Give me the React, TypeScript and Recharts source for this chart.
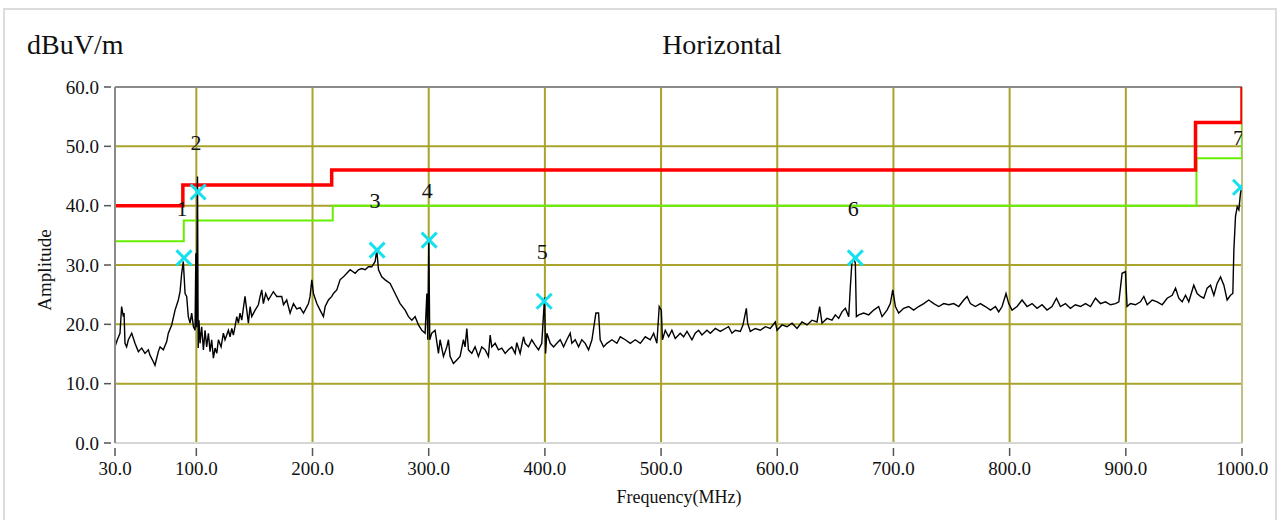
import React from 'react';
import { ComposedChart, Line, Scatter, XAxis, YAxis, CartesianGrid, ReferenceLine } from 'recharts';

const SERIF = "'Liberation Serif', 'DejaVu Serif', serif";

const xTicks = [30, 100, 200, 300, 400, 500, 600, 700, 800, 900, 1000];
const yTicks = [0, 10, 20, 30, 40, 50, 60];

const limitFreq = [30, 88.4, 216.5, 960, 1000];
const qpLimit = [40, 43.5, 46, 54, 60];
const marginFreq = [30, 89.2, 217.4, 960.8, 1000];
const marginLimit = [34, 37.5, 40, 48, 54];

const markerFreq = [89.4, 101.5, 255.6, 300.4, 399.4, 667.2, 998.7];
const markerAmp = [31.2, 42.3, 32.5, 34.2, 23.9, 31.2, 43.1];
const markerLabel = ['1', '2', '3', '4', '5', '6', '7'];

// measured trace: [frequency MHz, amplitude dBuV/m]
const trace: [number, number][] = [
  [30.0, 16.2], [32.0, 17.4], [34.3, 18.5], [35.7, 23.0], [37.2, 21.3], [37.8, 21.9], [38.6, 16.8], [40.0, 16.2],
  [41.5, 17.4], [44.4, 18.5], [47.2, 16.8], [50.1, 15.4], [53.0, 16.0], [55.8, 15.1], [58.7, 15.7], [60.1, 14.8],
  [63.0, 13.7], [64.4, 13.1], [67.3, 15.4], [68.8, 16.2], [71.6, 15.7], [74.5, 17.1], [75.9, 18.5], [78.8, 19.9],
  [81.7, 22.4], [84.5, 24.1], [86.0, 25.5], [87.4, 28.6], [88.8, 30.6], [90.3, 25.2], [91.7, 24.7], [93.1, 21.3],
  [94.6, 20.2], [96.0, 21.9], [97.5, 19.6], [98.9, 19.0], [99.6, 32.0], [100.2, 19.5], [101.0, 44.9], [101.6, 16.0],
  [102.3, 20.7], [103.2, 16.8], [104.6, 19.6], [106.1, 15.7], [107.5, 19.0], [108.9, 16.2], [110.4, 18.5], [111.8, 15.4],
  [113.2, 17.4], [114.7, 14.3], [116.1, 16.0], [117.6, 15.1], [119.0, 17.4], [121.3, 16.2], [123.3, 18.5], [124.7, 17.4],
  [127.6, 19.0], [129.0, 17.9], [130.5, 19.3], [131.9, 18.2], [133.3, 19.6], [134.8, 21.3], [136.2, 20.2], [137.6, 21.9],
  [139.1, 20.7], [141.9, 24.7], [143.4, 22.4], [144.8, 20.2], [146.3, 23.0], [147.7, 21.3], [150.6, 22.4], [153.4, 23.3],
  [154.9, 24.7], [156.3, 25.8], [157.7, 23.5], [159.7, 25.2], [162.0, 24.1], [166.3, 25.5], [169.2, 24.7], [173.5, 24.7],
  [175.0, 23.3], [177.8, 24.1], [180.7, 21.9], [183.6, 23.5], [186.4, 22.6], [189.3, 22.8], [192.2, 21.9], [193.6, 22.4],
  [196.5, 23.5], [197.9, 24.7], [199.4, 27.5], [200.8, 25.2], [203.7, 23.5], [206.5, 22.4], [209.4, 21.3], [210.9, 23.0],
  [213.7, 24.1], [216.6, 24.7], [218.0, 25.2], [220.9, 25.8], [223.7, 27.5], [226.6, 28.0], [229.5, 28.6], [232.4, 29.2],
  [236.7, 28.6], [239.5, 29.2], [242.4, 29.4], [245.3, 29.2], [248.1, 29.7], [251.0, 29.7], [253.9, 30.6], [255.3, 32.5],
  [256.8, 29.2], [259.6, 28.0], [262.5, 27.5], [266.8, 26.9], [271.1, 25.2], [275.4, 23.5], [279.7, 22.4], [282.6, 21.3],
  [285.5, 20.7], [288.3, 21.3], [291.2, 19.9], [294.1, 19.0], [296.9, 18.5], [298.4, 25.2], [299.2, 17.4], [300.1, 34.5],
  [300.9, 17.4], [302.6, 18.5], [305.5, 19.0], [308.4, 15.1], [309.8, 17.4], [312.7, 14.6], [315.6, 16.2], [317.0, 17.4],
  [318.4, 14.6], [321.3, 13.4], [324.2, 14.0], [327.0, 14.6], [329.9, 17.4], [331.3, 16.2], [332.8, 19.3], [334.2, 15.7],
  [337.1, 15.1], [339.9, 16.2], [342.8, 14.6], [345.7, 16.2], [348.6, 15.7], [351.4, 14.6], [352.9, 18.2], [354.3, 16.2],
  [357.2, 16.8], [360.0, 15.7], [362.9, 16.0], [365.8, 15.1], [368.6, 15.7], [371.5, 16.2], [374.4, 15.1], [375.8, 16.9],
  [378.7, 15.1], [381.6, 17.9], [383.0, 16.8], [385.9, 16.2], [388.7, 17.4], [391.6, 16.5], [394.5, 15.7], [397.3, 16.8],
  [399.7, 24.5], [400.6, 15.1], [401.7, 18.5], [404.6, 16.8], [407.5, 16.2], [410.3, 16.8], [413.2, 17.4], [416.1, 16.2],
  [418.9, 17.4], [421.8, 18.5], [423.2, 16.8], [426.1, 17.4], [429.0, 16.2], [431.8, 17.4], [434.7, 16.8], [437.6, 15.7],
  [440.5, 17.4], [443.9, 21.9], [446.2, 21.9], [447.6, 17.4], [450.5, 16.2], [453.4, 16.8], [457.7, 17.4], [462.0, 16.8],
  [464.9, 17.9], [469.2, 17.4], [473.5, 16.8], [477.8, 17.4], [482.1, 16.8], [486.4, 17.9], [490.7, 17.4], [493.6, 18.5],
  [496.4, 16.8], [498.4, 23.0], [500.2, 22.4], [501.2, 17.4], [503.6, 19.0], [506.5, 17.9], [509.3, 19.0], [512.2, 17.6],
  [516.5, 18.5], [519.4, 17.9], [522.3, 18.8], [526.6, 17.4], [529.4, 18.5], [532.3, 19.0], [535.2, 18.2], [539.5, 19.0],
  [542.4, 18.5], [546.7, 19.3], [551.0, 18.8], [555.3, 19.3], [558.1, 19.6], [561.0, 18.5], [563.9, 19.0], [568.2, 18.8],
  [570.5, 19.9], [573.4, 22.7], [574.5, 20.2], [576.8, 18.8], [581.1, 19.3], [585.4, 19.0], [589.7, 19.6], [594.0, 19.3],
  [598.3, 20.4], [599.8, 19.0], [604.1, 19.9], [608.4, 19.6], [612.7, 20.2], [617.0, 19.3], [621.3, 20.4], [625.6, 19.9],
  [629.9, 20.7], [634.2, 20.4], [636.5, 23.0], [638.5, 20.2], [642.8, 21.0], [647.1, 20.7], [650.0, 21.6], [652.9, 21.0],
  [655.7, 22.1], [658.6, 22.7], [661.5, 21.3], [662.9, 26.3], [664.3, 30.6], [665.8, 31.1], [667.2, 30.3], [668.1, 21.3],
  [670.1, 21.6], [674.4, 21.9], [678.7, 21.6], [683.0, 22.4], [687.3, 23.0], [690.2, 21.3], [694.5, 22.4], [697.3, 23.5],
  [699.4, 25.8], [701.7, 23.0], [704.5, 21.9], [708.8, 22.7], [713.1, 23.0], [717.4, 22.4], [721.7, 23.0], [726.1, 23.5],
  [730.4, 24.1], [734.7, 23.5], [739.0, 23.0], [743.3, 23.5], [747.6, 23.3], [751.9, 23.5], [756.2, 23.0], [760.5, 24.1],
  [763.4, 24.7], [766.2, 23.5], [770.5, 23.0], [774.8, 23.5], [779.1, 23.0], [783.5, 22.4], [787.8, 23.0], [790.6, 22.1],
  [793.5, 23.0], [796.9, 25.2], [799.2, 23.5], [802.1, 22.4], [806.4, 23.0], [810.7, 24.1], [815.0, 23.0], [819.3, 23.5],
  [823.6, 22.7], [827.9, 23.3], [832.2, 22.4], [836.5, 23.0], [840.3, 24.4], [843.7, 23.0], [848.0, 23.5], [852.3, 22.7],
  [856.6, 23.3], [861.0, 23.0], [865.3, 23.5], [869.6, 23.0], [873.9, 24.4], [878.2, 23.5], [882.5, 23.8], [886.8, 23.3],
  [891.1, 23.5], [894.0, 23.8], [896.8, 28.6], [899.7, 28.9], [901.1, 23.0], [904.0, 23.5], [908.3, 23.3], [912.6, 23.8],
  [915.5, 24.7], [918.4, 23.3], [922.7, 24.1], [927.0, 23.8], [931.3, 23.3], [935.6, 24.4], [939.9, 24.9], [942.8, 26.1],
  [945.6, 24.4], [948.5, 23.8], [951.4, 24.9], [954.2, 23.8], [958.5, 26.6], [961.4, 25.2], [964.3, 24.7], [967.1, 24.4],
  [970.0, 26.1], [972.9, 26.6], [975.8, 24.9], [978.6, 26.9], [981.5, 28.0], [984.4, 26.6], [987.2, 24.1], [990.1, 24.9],
  [992.1, 25.2], [993.0, 32.5], [994.4, 38.2], [995.9, 39.8], [997.3, 39.3], [998.7, 42.1], [1000.0, 43.2],
];

const traceData = trace.map(([f, a]) => ({ f, a }));
const qpData = limitFreq.map((f, i) => ({ f, a: qpLimit[i] }));
const marginData = marginFreq.map((f, i) => ({ f, a: marginLimit[i] }));
const markerData = markerFreq.map((f, i) => ({ f, a: markerAmp[i], label: markerLabel[i] }));

const GRID = '#a9a32c';

const XTick = (props: any) => {
  const { x, y, payload } = props;
  return (
    <g>
      <line x1={x} x2={x} y1={y + 5} y2={y + 13} stroke="#555" strokeWidth={1.5} />
      <text x={x} y={y + 32} textAnchor="middle" fontFamily={SERIF} fontSize={19} fill="#111">
        {Number(payload.value).toFixed(1)}
      </text>
    </g>
  );
};

const YTick = (props: any) => {
  const { x, y, payload } = props;
  return (
    <g>
      <line x1={x - 11} x2={x - 4} y1={y} y2={y} stroke="#555" strokeWidth={1.5} />
      <text x={x - 16} y={y + 6.5} textAnchor="end" fontFamily={SERIF} fontSize={19} fill="#111">
        {Number(payload.value).toFixed(1)}
      </text>
    </g>
  );
};

const MarkerShape = (props: any) => {
  const { cx, cy, payload } = props;
  const s = 7.5;
  return (
    <g>
      <line x1={cx - s} y1={cy - s} x2={cx + s} y2={cy + s} stroke="#14e0ee" strokeWidth={3} />
      <line x1={cx - s} y1={cy + s} x2={cx + s} y2={cy - s} stroke="#14e0ee" strokeWidth={3} />
      <text x={cx - 2} y={cy - 42} textAnchor="middle" fontFamily={SERIF} fontSize={22} fill="#111">
        {payload.label}
      </text>
    </g>
  );
};

export default function App() {
  return (
    <div style={{ position: 'relative', width: 1282, height: 520, background: '#fff', overflow: 'hidden' }}>
      <style>{`body{margin:0;}`}</style>
      <ComposedChart
        width={1282}
        height={520}
        margin={{ top: 87, right: 40, bottom: 0, left: 0 }}
      >
        <CartesianGrid stroke={GRID} strokeWidth={2} />
        <XAxis
          type="number"
          dataKey="f"
          domain={[30, 1000]}
          ticks={xTicks}
          allowDataOverflow
          height={77}
          tickSize={0}
          tickMargin={0}
          tickLine={false}
          axisLine={{ stroke: '#d6d6d6', strokeWidth: 2 }}
          tick={<XTick />}
          interval={0}
        />
        <YAxis
          type="number"
          domain={[0, 60]}
          ticks={yTicks}
          allowDataOverflow
          width={115}
          tickSize={0}
          tickMargin={0}
          tickLine={false}
          axisLine={{ stroke: '#8a8a8a', strokeWidth: 2 }}
          tick={<YTick />}
          interval={0}
        />
        <ReferenceLine y={60} stroke="#8a8a8a" strokeWidth={2} />
        <ReferenceLine x={1000} stroke="#dcdcdc" strokeWidth={1} />
        <Line data={marginData} dataKey="a" type="stepAfter" stroke="#66f000" strokeWidth={2} dot={false} isAnimationActive={false} />
        <Line data={qpData} dataKey="a" type="stepAfter" stroke="#ff0000" strokeWidth={3.5} dot={false} isAnimationActive={false} />
        <Line data={traceData} dataKey="a" type="linear" stroke="#000" strokeWidth={1.4} dot={false} isAnimationActive={false} />
        <Scatter data={markerData} dataKey="a" shape={<MarkerShape />} isAnimationActive={false} />
      </ComposedChart>
      <div style={{ position: 'absolute', left: 3, top: 8, width: 1274, height: 530, border: '2px solid #dcdcdc', boxSizing: 'border-box', pointerEvents: 'none' }} />
      <div style={{ position: 'absolute', left: 27, top: 28, fontFamily: SERIF, fontSize: 28, lineHeight: '34px', color: '#111' }}>dBuV/m</div>
      <div style={{ position: 'absolute', left: 622, width: 200, top: 28, textAlign: 'center', fontFamily: SERIF, fontSize: 28, lineHeight: '34px', color: '#111' }}>Horizontal</div>
      <div style={{ position: 'absolute', left: -5, top: 258, width: 100, height: 24, textAlign: 'center', fontFamily: SERIF, fontSize: 19, lineHeight: '24px', color: '#111', transform: 'rotate(-90deg)' }}>Amplitude</div>
      <div style={{ position: 'absolute', left: 579, width: 200, top: 485, textAlign: 'center', fontFamily: SERIF, fontSize: 18, lineHeight: '24px', color: '#111' }}>Frequency(MHz)</div>
    </div>
  );
}
